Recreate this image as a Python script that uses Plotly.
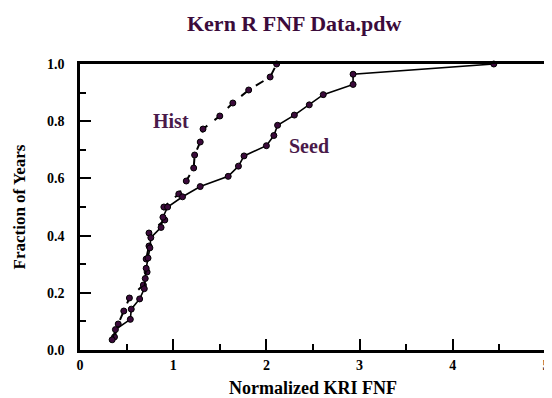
import plotly.graph_objects as go

hist_x = [0.37, 0.41, 0.47, 0.53, 0.68, 0.72, 0.71, 0.74, 0.74, 0.91, 0.90,
          1.06, 1.14, 1.22, 1.23, 1.29, 1.32, 1.50, 1.64, 1.81, 2.04, 2.11]
hist_y = [i / 22 for i in range(1, 23)]

seed_x = [0.345, 0.38, 0.54, 0.55, 0.64, 0.69, 0.70, 0.71, 0.73, 0.75, 0.76,
          0.87, 0.89, 0.94, 1.10, 1.29, 1.59, 1.70, 1.76, 2.00, 2.08, 2.12,
          2.30, 2.46, 2.61, 2.93, 2.93, 4.44]
seed_y = [i / 28 for i in range(1, 29)]

x_ticks = [0, 1, 2, 3, 4, 5]
y_ticks = [0.0, 0.2, 0.4, 0.6, 0.8, 1.0]

FONT = "Liberation Serif, Times New Roman, serif"
MARK = "#3a0a3a"
TXT = "#4a1a4a"

fig = go.Figure()
fig.add_trace(go.Scatter(
    x=hist_x, y=hist_y, mode="lines+markers", name="Hist",
    line=dict(color="black", width=2, dash="dash"),
    marker=dict(size=6, color=MARK, line=dict(color="black", width=1)),
    cliponaxis=False))
fig.add_trace(go.Scatter(
    x=seed_x, y=seed_y, mode="lines+markers", name="Seed",
    line=dict(color="black", width=1.6),
    marker=dict(size=6, color=MARK, line=dict(color="black", width=1)),
    cliponaxis=False))

fig.add_annotation(x=0.98, y=0.80, text="<b>Hist</b>", showarrow=False,
                   font=dict(family=FONT, size=20, color=TXT))
fig.add_annotation(x=2.46, y=0.715, text="<b>Seed</b>", showarrow=False,
                   font=dict(family=FONT, size=20, color=TXT))

fig.update_layout(
    width=544, height=390,
    margin=dict(l=72, r=6, t=56, b=48, autoexpand=False),
    paper_bgcolor="white", plot_bgcolor="white",
    showlegend=False,
    title=dict(text="<b>Kern R FNF Data.pdw</b>", x=0.526, xanchor="center",
               y=0.962, yanchor="middle",
               font=dict(family=FONT, size=22, color="#3b0b3b")),
    font=dict(family=FONT, color="black"),
)
fig.update_xaxes(
    range=[0, 5], tickvals=x_ticks, ticktext=[f"<b>{v}</b>" for v in x_ticks],
    showgrid=False, zeroline=False, automargin=False,
    showline=True, linecolor="black", linewidth=2.5, mirror=True,
    ticks="inside", ticklen=11, tickwidth=2, tickcolor="black",
    minor=dict(ticks="inside", dtick=0.5, ticklen=6, tickwidth=2, tickcolor="black"),
    tickfont=dict(family=FONT, size=14, color="black"),
    ticklabelstandoff=0,
    title=dict(text="<b>Normalized KRI FNF</b>", font=dict(family=FONT, size=18), standoff=12),
)
fig.update_yaxes(
    range=[0, 1.0], tickvals=y_ticks, ticktext=[f"<b>{v:.1f}</b>" for v in y_ticks],
    showgrid=False, zeroline=False, automargin=False,
    showline=True, linecolor="black", linewidth=2.5, mirror=True,
    ticks="inside", ticklen=11, tickwidth=2, tickcolor="black",
    minor=dict(ticks="inside", dtick=0.1, ticklen=6, tickwidth=2, tickcolor="black"),
    tickfont=dict(family=FONT, size=14, color="black"),
    ticklabelstandoff=10,
    title=dict(text="<b>Fraction of Years</b>", font=dict(family=FONT, size=17), standoff=18),
)

fig.write_html("out.html")
